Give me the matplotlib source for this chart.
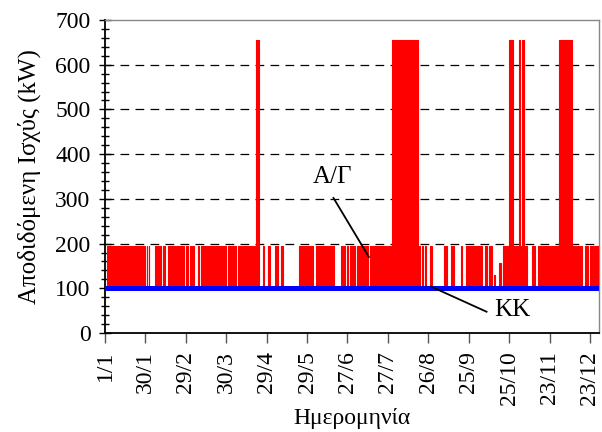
import matplotlib
matplotlib.use("Agg")
import matplotlib.pyplot as plt
from matplotlib.ticker import MultipleLocator, FixedLocator
import numpy as np

plt.rcParams['font.family'] = ['Liberation Serif', 'DejaVu Serif']

# ---- data (days from 1 January) ----
base_level = 100      # ΚΚ
on_level = 195        # Α/Γ ordinary level
peak_level = 655      # Α/Γ peak level

on_segments = [
    (1.7, 5.2), (6.2, 8.7), (9.2, 12.6), (13.0, 18.6), (19.6, 20.1), (20.6, 25.0), (25.5, 26.0),
    (27.0, 28.0), (28.5, 30.0), (31.0, 31.5), (32.5, 33.0), (37.0, 41.4), (43.4, 44.4),
    (46.4, 50.3), (50.7, 55.3), (55.8, 58.8), (60.2, 61.7), (63.2, 64.2), (64.7, 66.2), (68.7, 69.7),
    (71.2, 76.6), (77.1, 81.0), (81.5, 85.0), (86.0, 87.5), (88.5, 89.5), (91.5, 93.0), (93.5, 97.4),
    (98.4, 100.9), (101.9, 102.9), (103.4, 107.0), (107.5, 113.8), (117.3, 118.3), (120.7, 122.2),
    (126.4, 127.0), (128.0, 128.6), (130.9, 131.9), (143.8, 144.8), (145.3, 147.8),
    (148.3, 149.8), (150.3, 154.7), (156.7, 158.2), (159.2, 160.7), (161.2, 164.2),
    (164.6, 168.6), (169.1, 170.1), (175.5, 178.0), (179.5, 180.5), (181.5, 185.5),
    (186.9, 190.5), (191.0, 195.4), (196.4, 203.8), (204.8, 213.2), (232.6, 233.5), (235.0, 236.0),
    (237.5, 238.5), (241.5, 242.5), (251.7, 253.6), (257.2, 259.1), (264.6, 265.1),
    (268.0, 270.0), (271.0, 275.4), (276.5, 279.9), (281.9, 283.4), (285.4, 287.4),
    (295.3, 299.8), (303.7, 306.7), (308.2, 309.6), (311.6, 313.1), (316.6, 319.1),
    (321.6, 323.0), (323.5, 328.5), (329.0, 333.0), (333.5, 337.0), (346.9, 353.8), (356.3, 358.7),
    (359.8, 361.3), (362.2, 366.5),
]
peak_segments = [
    (111.8, 114.3), (213.2, 221.1), (222.2, 232.6), (299.8, 303.2),
    (307.2, 308.2), (309.6, 311.1), (337.0, 346.9),
]
partial_segments = [(235.3, 235.7, 123), (288.4, 289.3, 130), (292.5, 294.0, 156)]

tick_days = [0, 30, 60, 90, 120, 150, 180, 210, 240, 270, 300, 330, 360]
tick_labels = ['1/1', '30/1', '29/2', '30/3', '29/4', '29/5', '27/6', '27/7',
               '26/8', '25/9', '25/10', '23/11', '23/12']
x_end = 366.7

# annotation texts and leader lines (data coordinates)
ag_text_pos = (168.8, 349)
ag_line = ([169.6, 195.9], [302, 170])
kk_text_pos = (302.7, 52)
kk_line = ([242.2, 283.2], [103.6, 47.6])

# ---- build step series from segments ----
segs = ([(s, e, on_level) for s, e in on_segments] +
        [(s, e, peak_level) for s, e in peak_segments] +
        [(s, e, v) for s, e, v in partial_segments])
bps = sorted(set([0.0, x_end] + [s for s, _, _ in segs] + [e for _, e, _ in segs]))
xs, ys = [], []
for a, b in zip(bps[:-1], bps[1:]):
    m = 0.5 * (a + b)
    lev = max([v for s, e, v in segs if s <= m <= e] + [base_level])
    xs += [a, b]
    ys += [lev, lev]
xs = np.array(xs)
ys = np.array(ys)

fig = plt.figure(figsize=(6.02, 4.32), dpi=100)
ax = fig.add_axes([105/602, 1-333/432, (599-105)/602, (333-20)/432])

ax.fill_between(xs, base_level, ys, color='#ff0000', lw=0, zorder=3)
ax.plot(xs, ys, color='#ff0000', lw=0.8, zorder=3)
ax.plot([0, x_end], [base_level, base_level], color='#0000ff', lw=3.6, zorder=4)

for g in [200, 300, 400, 500, 600]:
    ax.axhline(g, color='black', lw=0.9, dashes=(7, 5), zorder=2)

ax.set_xlim(0, x_end)
ax.set_ylim(0, 700)
ax.xaxis.set_major_locator(FixedLocator(tick_days))
ax.set_xticklabels(tick_labels, rotation=90, fontsize=17)
ax.yaxis.set_major_locator(MultipleLocator(100))
ax.yaxis.set_minor_locator(MultipleLocator(20))
ax.tick_params(axis='y', which='major', direction='inout', length=9, width=1, labelsize=17, pad=6)
ax.tick_params(axis='y', which='minor', direction='inout', length=6, width=1)
ax.tick_params(axis='x', which='major', direction='out', length=7, width=1, color='#555555', pad=6)

for side in ['left', 'bottom']:
    ax.spines[side].set_linewidth(1.3)
    ax.spines[side].set_color('black')
for side in ['top', 'right']:
    ax.spines[side].set_linewidth(1.0)
    ax.spines[side].set_color('#888888')

ax.set_xlabel('Ημερομηνία', fontsize=17, labelpad=2)
ax.set_ylabel('Αποδιδόμενη Ισχύς (kW)', fontsize=18, labelpad=10)

ax.text(*ag_text_pos, 'Α/Γ', fontsize=18, ha='center', va='center', zorder=5)
ax.plot(*ag_line, color='black', lw=1.3, zorder=5)
ax.text(*kk_text_pos, 'ΚΚ', fontsize=18, ha='center', va='center', zorder=5)
ax.plot(*kk_line, color='black', lw=1.3, zorder=5)

fig.savefig('out.png', dpi=100)
